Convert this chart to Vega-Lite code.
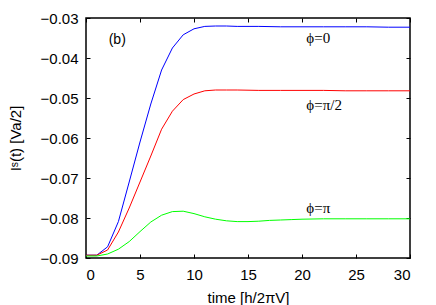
{
  "$schema": "https://vega.github.io/schema/vega-lite/v6.json",
  "width": 324,
  "height": 240,
  "autosize": {"type": "none"},
  "padding": {"left": 86, "top": 18, "right": 26, "bottom": 47},
  "background": "white",
  "datasets": {
    "curves": [
      {"t": 0, "v": -0.0893, "s": "phi0"}, {"t": 1, "v": -0.0893, "s": "phi0"}, {"t": 2, "v": -0.0872, "s": "phi0"}, {"t": 3, "v": -0.0809, "s": "phi0"}, {"t": 4, "v": -0.0710, "s": "phi0"}, {"t": 5, "v": -0.0610, "s": "phi0"}, {"t": 6, "v": -0.0515, "s": "phi0"}, {"t": 7, "v": -0.0430, "s": "phi0"}, {"t": 8, "v": -0.0375, "s": "phi0"}, {"t": 9, "v": -0.0342, "s": "phi0"}, {"t": 10, "v": -0.0327, "s": "phi0"}, {"t": 11, "v": -0.0321, "s": "phi0"}, {"t": 12, "v": -0.0320, "s": "phi0"}, {"t": 13, "v": -0.0320, "s": "phi0"}, {"t": 14, "v": -0.0321, "s": "phi0"}, {"t": 16, "v": -0.0321, "s": "phi0"}, {"t": 18, "v": -0.0322, "s": "phi0"}, {"t": 20, "v": -0.0322, "s": "phi0"}, {"t": 22, "v": -0.0322, "s": "phi0"}, {"t": 24, "v": -0.0322, "s": "phi0"}, {"t": 26, "v": -0.0322, "s": "phi0"}, {"t": 28, "v": -0.0323, "s": "phi0"}, {"t": 30, "v": -0.0323, "s": "phi0"},
      {"t": 0, "v": -0.0893, "s": "phi2"}, {"t": 1, "v": -0.0893, "s": "phi2"}, {"t": 2, "v": -0.0880, "s": "phi2"}, {"t": 3, "v": -0.0835, "s": "phi2"}, {"t": 4, "v": -0.0775, "s": "phi2"}, {"t": 5, "v": -0.0710, "s": "phi2"}, {"t": 6, "v": -0.0645, "s": "phi2"}, {"t": 7, "v": -0.0578, "s": "phi2"}, {"t": 8, "v": -0.0533, "s": "phi2"}, {"t": 9, "v": -0.0504, "s": "phi2"}, {"t": 10, "v": -0.0490, "s": "phi2"}, {"t": 11, "v": -0.0482, "s": "phi2"}, {"t": 12, "v": -0.0480, "s": "phi2"}, {"t": 13, "v": -0.0480, "s": "phi2"}, {"t": 14, "v": -0.0480, "s": "phi2"}, {"t": 16, "v": -0.0481, "s": "phi2"}, {"t": 18, "v": -0.0481, "s": "phi2"}, {"t": 20, "v": -0.0481, "s": "phi2"}, {"t": 22, "v": -0.0481, "s": "phi2"}, {"t": 24, "v": -0.0482, "s": "phi2"}, {"t": 26, "v": -0.0482, "s": "phi2"}, {"t": 28, "v": -0.0482, "s": "phi2"}, {"t": 30, "v": -0.0482, "s": "phi2"},
      {"t": 0, "v": -0.0895, "s": "phipi"}, {"t": 1, "v": -0.0895, "s": "phipi"}, {"t": 2, "v": -0.0890, "s": "phipi"}, {"t": 3, "v": -0.0878, "s": "phipi"}, {"t": 4, "v": -0.0859, "s": "phipi"}, {"t": 5, "v": -0.0834, "s": "phipi"}, {"t": 6, "v": -0.0810, "s": "phipi"}, {"t": 7, "v": -0.0793, "s": "phipi"}, {"t": 8, "v": -0.0784, "s": "phipi"}, {"t": 9, "v": -0.0783, "s": "phipi"}, {"t": 10, "v": -0.0789, "s": "phipi"}, {"t": 11, "v": -0.0797, "s": "phipi"}, {"t": 12, "v": -0.0803, "s": "phipi"}, {"t": 13, "v": -0.0807, "s": "phipi"}, {"t": 14, "v": -0.0809, "s": "phipi"}, {"t": 15, "v": -0.0809, "s": "phipi"}, {"t": 16, "v": -0.0808, "s": "phipi"}, {"t": 17, "v": -0.0806, "s": "phipi"}, {"t": 18, "v": -0.0805, "s": "phipi"}, {"t": 19, "v": -0.0804, "s": "phipi"}, {"t": 20, "v": -0.0803, "s": "phipi"}, {"t": 22, "v": -0.0802, "s": "phipi"}, {"t": 24, "v": -0.0802, "s": "phipi"}, {"t": 26, "v": -0.0802, "s": "phipi"}, {"t": 28, "v": -0.0802, "s": "phipi"}, {"t": 30, "v": -0.0802, "s": "phipi"}
    ],
    "labels": [
      {"t": 20.4, "v": -0.0350, "txt": "ϕ=0"},
      {"t": 20.4, "v": -0.0517, "txt": "ϕ=π/2"},
      {"t": 20.4, "v": -0.0775, "txt": "ϕ=π"}
    ],
    "panel": [
      {"t": 2.1, "v": -0.0354, "txt": "(b)"}
    ]
  },
  "layer": [
    {
      "data": {"name": "curves"},
      "mark": {"type": "line", "strokeWidth": 1, "clip": true},
      "encoding": {
        "x": {"field": "t", "type": "quantitative", "scale": {"domain": [0, 30], "nice": false},
          "axis": {"values": [0, 5, 10, 15, 20, 25, 30], "title": "time [h/2πV]", "titlePadding": 8, "labelPadding": 9}},
        "y": {"field": "v", "type": "quantitative", "scale": {"domain": [-0.09, -0.03], "nice": false, "zero": false},
          "axis": {"values": [-0.09, -0.08, -0.07, -0.06, -0.05, -0.04, -0.03], "format": ".2f", "title": "Iˢ(t) [Va/2]", "titlePadding": 17, "labelPadding": 8}},
        "color": {"field": "s", "type": "nominal", "scale": {"domain": ["phi0", "phi2", "phipi"], "range": ["#0000ff", "#ff0000", "#00ff00"]}, "legend": null},
        "detail": {"field": "s"}
      }
    },
    {
      "data": {"name": "labels"},
      "mark": {"type": "text", "align": "left", "baseline": "middle", "font": "Liberation Serif", "fontSize": 15, "color": "black"},
      "encoding": {
        "x": {"field": "t", "type": "quantitative", "axis": {"orient": "top", "values": [0, 5, 10, 15, 20, 25, 30], "labels": false, "title": null}},
        "y": {"field": "v", "type": "quantitative", "axis": {"orient": "right", "values": [-0.09, -0.08, -0.07, -0.06, -0.05, -0.04, -0.03], "labels": false, "title": null}},
        "text": {"field": "txt"}
      }
    },
    {
      "data": {"name": "panel"},
      "mark": {"type": "text", "align": "left", "baseline": "middle", "font": "Liberation Sans", "fontSize": 14, "color": "black"},
      "encoding": {
        "x": {"field": "t", "type": "quantitative", "axis": null},
        "y": {"field": "v", "type": "quantitative", "axis": null},
        "text": {"field": "txt"}
      }
    }
  ],
  "resolve": {"axis": {"x": "independent", "y": "independent"}},
  "config": {
    "view": {"stroke": "black", "strokeWidth": 1.5},
    "axis": {
      "domain": false, "grid": false, "ticks": true, "tickSize": 4, "offset": -4, "tickColor": "black", "tickWidth": 1,
      "labelFont": "Liberation Sans", "labelFontSize": 15, "labelColor": "black",
      "titleFont": "Liberation Sans", "titleFontSize": 15, "titleFontWeight": "normal", "titleColor": "black"
    }
  }
}
